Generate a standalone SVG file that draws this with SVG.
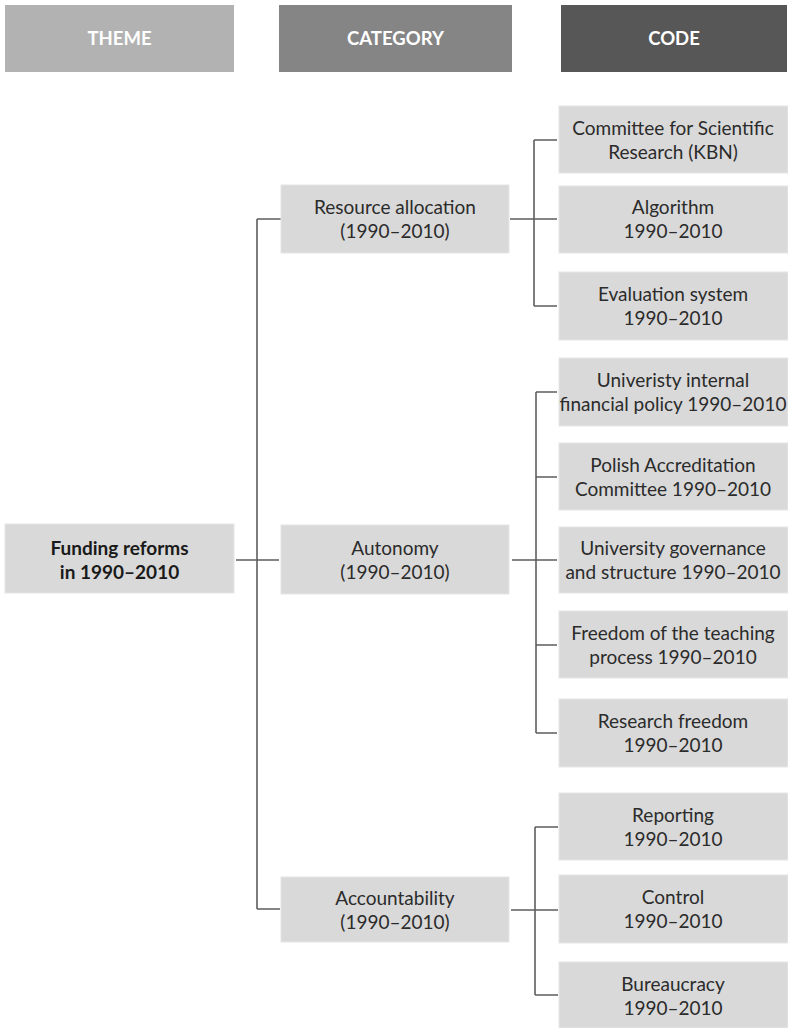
<svg xmlns="http://www.w3.org/2000/svg" width="788" height="1028" viewBox="0 0 788 1028">
<style>
.hdr{font-family:Lato,"Open Sans","Liberation Sans",sans-serif;font-weight:bold;font-size:18.5px;fill:#ffffff;text-anchor:middle}
.box{fill:#d9d9d9;stroke:#e6e6e6;stroke-width:1}
.t{font-family:Lato,"Open Sans","Liberation Sans",sans-serif;font-size:19px;fill:#2b2b2b;text-anchor:middle}
.b{font-weight:bold;fill:#1a1a1a}
.c{fill:none;stroke:#5e5e5e;stroke-width:1.6}
</style>
<rect width="788" height="1028" fill="#ffffff"/>
<g id="headers">
<g id="h-theme"><rect x="5" y="5" width="229" height="67" fill="#b2b2b2"/><text class="hdr" x="119.5" y="45">THEME</text></g>
<g id="h-category"><rect x="279" y="5" width="233" height="67" fill="#858585"/><text class="hdr" x="395.5" y="45">CATEGORY</text></g>
<g id="h-code"><rect x="561" y="5" width="226" height="67" fill="#575757"/><text class="hdr" x="674" y="45">CODE</text></g>
</g>
<g id="connectors">
<path class="c" d="M236,560H279 M257,219V909 M257,219H281 M257,909H280"/>
<path class="c" d="M510,219H557 M534,140V306 M534,140H557 M534,306H557"/>
<path class="c" d="M512,560H557 M536,392V733 M536,392H557 M536,477H557 M536,645H557 M536,733H557"/>
<path class="c" d="M511,910H558 M535,827V995 M535,827H558 M535,995H558"/>
</g>
<g id="theme">
<rect class="box" x="5" y="524" width="229" height="69"/>
<text class="t b" x="119.5" y="555">Funding reforms</text>
<text class="t b" x="119.5" y="579">in 1990–2010</text>
</g>
<g id="cat-resource">
<rect class="box" x="281" y="185" width="228" height="68"/>
<text class="t" x="395" y="214">Resource allocation</text>
<text class="t" x="395" y="238">(1990–2010)</text>
</g>
<g id="cat-autonomy">
<rect class="box" x="281" y="525" width="228" height="69"/>
<text class="t" x="395" y="555">Autonomy</text>
<text class="t" x="395" y="579">(1990–2010)</text>
</g>
<g id="cat-accountability">
<rect class="box" x="281" y="877" width="228" height="65"/>
<text class="t" x="395" y="905">Accountability</text>
<text class="t" x="395" y="929">(1990–2010)</text>
</g>
<g id="code-kbn">
<rect class="box" x="559" y="106" width="229" height="67"/>
<text class="t" x="673" y="135">Committee for Scientific</text>
<text class="t" x="673" y="159">Research (KBN)</text>
</g>
<g id="code-algorithm">
<rect class="box" x="559" y="186" width="229" height="67"/>
<text class="t" x="673" y="214">Algorithm</text>
<text class="t" x="673" y="238">1990–2010</text>
</g>
<g id="code-evaluation">
<rect class="box" x="559" y="272" width="229" height="68"/>
<text class="t" x="673" y="301">Evaluation system</text>
<text class="t" x="673" y="325">1990–2010</text>
</g>
<g id="code-financial">
<rect class="box" x="559" y="358" width="229" height="68"/>
<text class="t" x="673" y="387">Univeristy internal</text>
<text class="t" x="673" y="411">financial policy 1990–2010</text>
</g>
<g id="code-accreditation">
<rect class="box" x="559" y="443" width="229" height="67"/>
<text class="t" x="673" y="472">Polish Accreditation</text>
<text class="t" x="673" y="496">Committee 1990–2010</text>
</g>
<g id="code-governance">
<rect class="box" x="559" y="527" width="229" height="66"/>
<text class="t" x="673" y="555">University governance</text>
<text class="t" x="673" y="579">and structure 1990–2010</text>
</g>
<g id="code-teaching">
<rect class="box" x="559" y="611" width="229" height="67"/>
<text class="t" x="673" y="640">Freedom of the teaching</text>
<text class="t" x="673" y="664">process 1990–2010</text>
</g>
<g id="code-research">
<rect class="box" x="559" y="699" width="229" height="68"/>
<text class="t" x="673" y="728">Research freedom</text>
<text class="t" x="673" y="752">1990–2010</text>
</g>
<g id="code-reporting">
<rect class="box" x="559" y="793" width="229" height="67"/>
<text class="t" x="673" y="822">Reporting</text>
<text class="t" x="673" y="846">1990–2010</text>
</g>
<g id="code-control">
<rect class="box" x="559" y="875" width="229" height="68"/>
<text class="t" x="673" y="904">Control</text>
<text class="t" x="673" y="928">1990–2010</text>
</g>
<g id="code-bureaucracy">
<rect class="box" x="559" y="962" width="229" height="66"/>
<text class="t" x="673" y="991">Bureaucracy</text>
<text class="t" x="673" y="1015">1990–2010</text>
</g>
</svg>
